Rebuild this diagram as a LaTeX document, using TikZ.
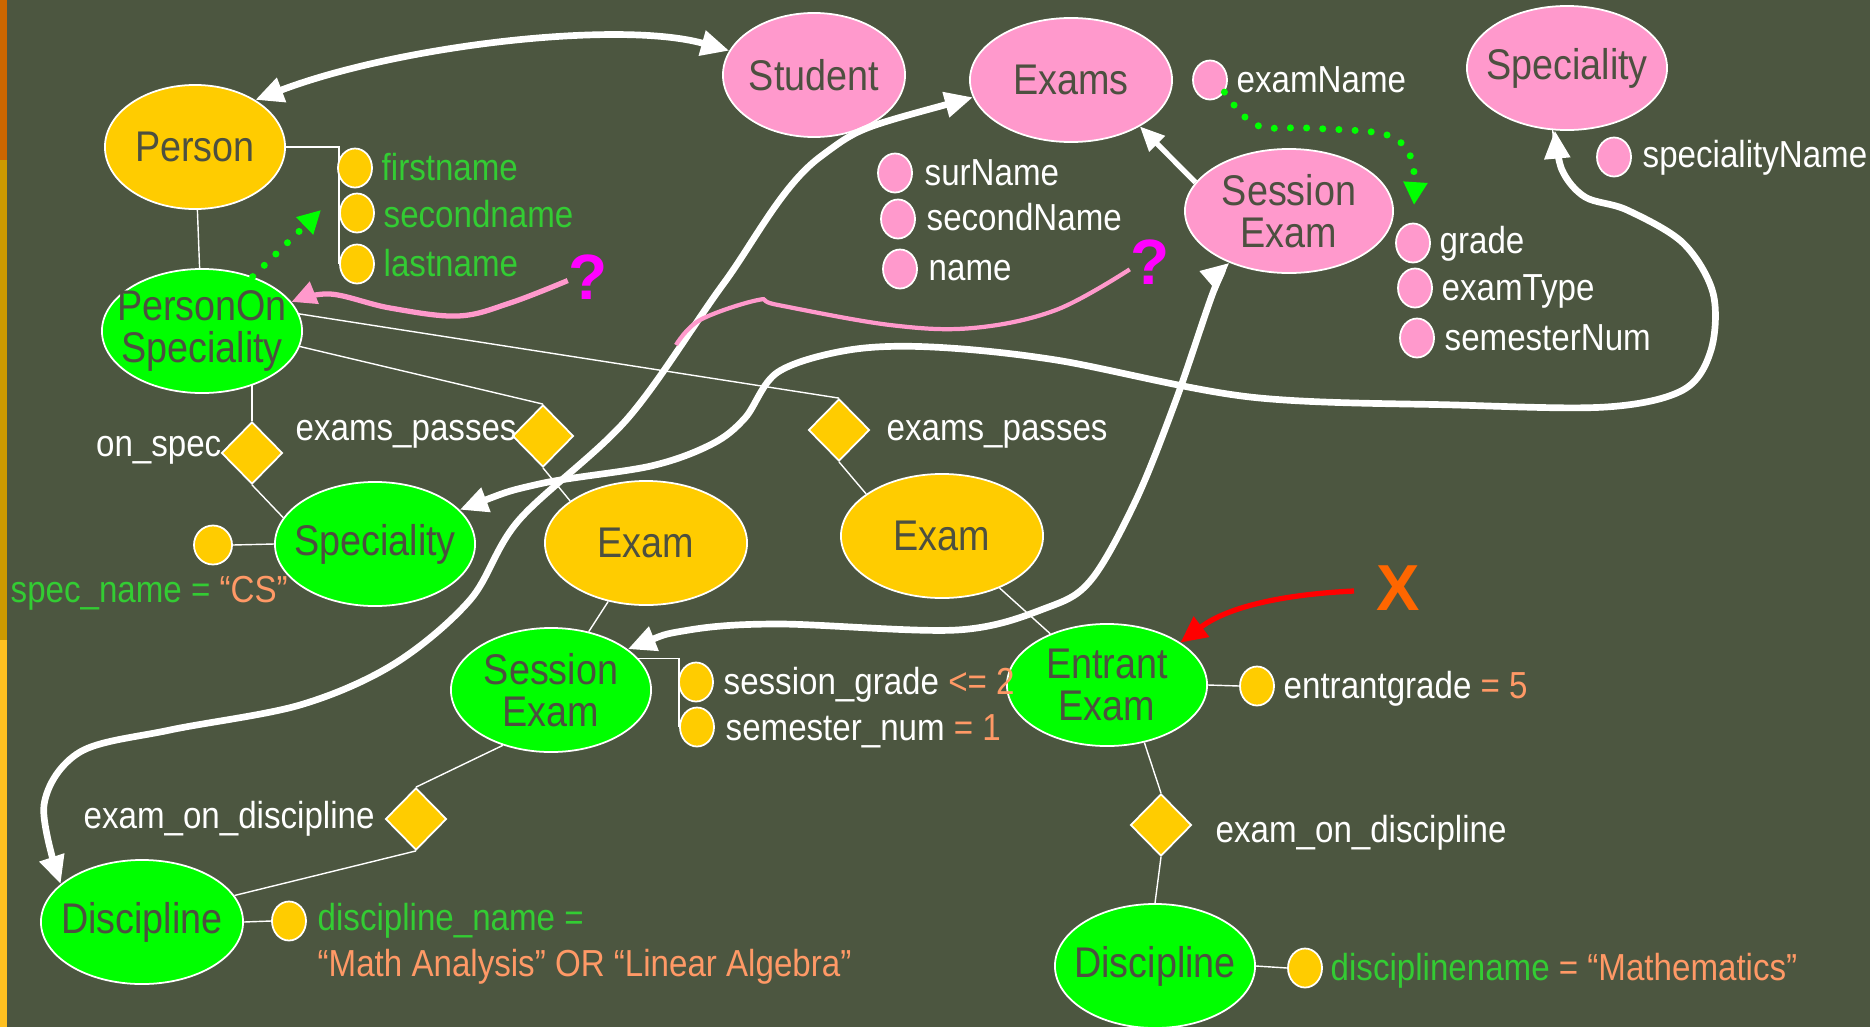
\documentclass[tikz,border=0pt]{standalone}
\usepackage{fontspec}
\setmainfont{Liberation Sans}[FakeStretch=0.88]
\newfontfamily\markfont{Liberation Sans}
\usetikzlibrary{shapes.geometric,arrows.meta}

\definecolor{board}{RGB}{76,86,64}
\definecolor{ink}{RGB}{77,80,64}
\definecolor{entyellow}{RGB}{255,204,0}
\definecolor{entgreen}{RGB}{0,255,0}
\definecolor{entpink}{RGB}{255,153,204}
\definecolor{attrgreen}{RGB}{51,204,51}
\definecolor{valorange}{RGB}{255,153,102}
\definecolor{qmagenta}{RGB}{255,0,255}
\definecolor{xorange}{RGB}{255,102,0}
\definecolor{stripA}{RGB}{204,102,0}
\definecolor{stripB}{RGB}{204,153,0}
\definecolor{stripC}{RGB}{255,192,32}

\pgfdeclarelayer{canvas}
\pgfdeclarelayer{links}
\pgfsetlayers{canvas,links,main}

\tikzset{
  entity/.style={ellipse, draw=white, line width=0.5pt, inner xsep=-8mm, inner ysep=-5mm,
    minimum width=2cm, minimum height=1.24cm, text=ink, align=center,
    font=\fontsize{12.2}{12}\selectfont},
  yellowent/.style={entity, fill=entyellow},
  greenent/.style={entity, fill=entgreen},
  pinkent/.style={entity, fill=entpink},
  relation/.style={diamond, draw=white, line width=0.5pt, fill=entyellow, inner sep=0pt,
    minimum width=0.61cm, minimum height=0.62cm},
  attr/.style={ellipse, draw=white, line width=0.5pt, inner sep=0pt,
    minimum width=0.34cm, minimum height=0.39cm},
  yattr/.style={attr, fill=entyellow},
  pattr/.style={attr, fill=entpink},
  lbl/.style={anchor=base west, inner sep=0pt, text=white, font=\fontsize{10.7}{12}\selectfont},
  qmark/.style={inner sep=0pt, text=qmagenta, font=\markfont\bfseries\fontsize{18.2}{18}\selectfont},
  xmark/.style={inner sep=0pt, text=xorange, font=\markfont\bfseries\fontsize{18.5}{18}\selectfont},
  link/.style={draw=white, line width=0.4pt},
  bigarrow/.style={draw=white, line width=1.9pt,
    {Triangle[length=8pt,width=7pt]}-{Triangle[length=8pt,width=7pt]}},
  onearrow/.style={draw=white, line width=1.5pt, -{Triangle[length=7pt,width=6pt]}},
  pinkarrow/.style={draw=entpink, line width=1.5pt, -{Triangle[length=7pt,width=6.5pt]}},
  pinkline/.style={draw=entpink, line width=1.2pt},
  redarrow/.style={draw=red, line width=1.5pt, -{Triangle[length=7.5pt,width=7pt]}},
  greendots/.style={draw=entgreen, line width=2pt, line cap=round,
    dash pattern=on 0pt off 4.6pt, -{Triangle[length=6.5pt,width=6.5pt]}}
}

\begin{document}
\begin{tikzpicture}[x=0.01cm, y=-0.01cm]
\useasboundingbox (0,0) rectangle (1870,1027);

\begin{pgfonlayer}{canvas}
  \fill[board] (0,0) rectangle (1870,1027);
  \fill[stripA] (0,0) rectangle (7,160);
  \fill[stripB] (0,160) rectangle (7,640);
  \fill[stripC] (0,640) rectangle (7,1027);
\end{pgfonlayer}

% entities
\node[yellowent, minimum width=1.8cm] (person) at (195,147) {Person};
\node[greenent] (pos) at (202,331) {PersonOn\\Speciality};
\node[pinkent, minimum width=1.82cm] (student) at (814,75) {Student};
\node[pinkent, minimum width=2.02cm] (exams) at (1071,80) {Exams};
\node[pinkent, minimum width=2.08cm] (sessP) at (1289,211) {Session\\Exam};
\node[pinkent] (specP) at (1567,68) {Speciality};
\node[greenent] (specG) at (375,544) {Speciality};
\node[yellowent, minimum width=2.02cm] (examL) at (646,543) {Exam};
\node[yellowent, minimum width=2.02cm] (examR) at (942,536) {Exam};
\node[greenent] (sessG) at (551,690) {Session\\Exam};
\node[greenent, minimum height=1.22cm] (entr) at (1107,685) {Entrant\\Exam};
\node[greenent, minimum width=2.02cm] (discL) at (142,922) {Discipline};
\node[greenent] (discR) at (1155,966) {Discipline};

% relationships
\node[relation] (onspec) at (252,453) {};
\node[relation] (dA) at (543,436) {};
\node[relation] (dB) at (839,430) {};
\node[relation] (dC) at (416,819) {};
\node[relation] (dD) at (1161,825) {};

% attributes
\node[yattr] (a1) at (355,168) {};
\node[yattr] (a2) at (357,213) {};
\node[yattr] (a3) at (357,264) {};
\node[yattr, minimum width=0.38cm] (sc) at (213,545) {};
\node[yattr] (sg1) at (696,682) {};
\node[yattr] (sg2) at (697,727) {};
\node[yattr] (eg) at (1257,686) {};
\node[yattr] (dn) at (289,921) {};
\node[yattr] (dn2) at (1305,968) {};
\node[pattr] (pEn) at (1210,80) {};
\node[pattr] (pSur) at (895,173) {};
\node[pattr] (pSec) at (898,219) {};
\node[pattr] (pNm) at (900,269) {};
\node[pattr] (pGr) at (1413,243) {};
\node[pattr] (pTy) at (1415,288) {};
\node[pattr] (pSem) at (1417,338) {};
\node[pattr] (pSpn) at (1614,157) {};

% labels
\node[lbl, text=attrgreen] (lFirst) at (381,180) {firstname};
\node[lbl, text=attrgreen] (lSecond) at (383,227) {secondname};
\node[lbl, text=attrgreen] (lLast) at (383,276) {lastname};
\node[lbl] (lExamName) at (1236,92) {examName};
\node[lbl] (lSur) at (924,185) {surName};
\node[lbl] (lSec) at (926,230) {secondName};
\node[lbl] (lName) at (928,280) {name};
\node[lbl] (lGrade) at (1439,253) {grade};
\node[lbl] (lType) at (1441,300) {examType};
\node[lbl] (lSem) at (1444,350) {semesterNum};
\node[lbl] (lSpn) at (1642,167) {specialityName};
\node[lbl, anchor=base east] (lOnSpec) at (222,456) {on\_spec};
\node[lbl] (lPassA) at (295,440) {exams\_passes};
\node[lbl] (lPassB) at (886,440) {exams\_passes};
\node[lbl, text=attrgreen] (lSpec) at (10,602) {spec\_name = \textcolor{valorange}{“CS”}};
\node[lbl] (lSG) at (723,694) {session\_grade \textcolor{valorange}{<= 2}};
\node[lbl] (lSN) at (725,740) {semester\_num \textcolor{valorange}{= 1}};
\node[lbl] (lEG) at (1283,698) {entrantgrade \textcolor{valorange}{= 5}};
\node[lbl] (lEodA) at (83,828) {exam\_on\_discipline};
\node[lbl] (lEodB) at (1215,842) {exam\_on\_discipline};
\node[lbl, text=attrgreen] (lDn1) at (317,930) {discipline\_name =};
\node[lbl, text=valorange] (lDn2) at (317,976) {“Math Analysis” OR “Linear Algebra”};
\node[lbl, text=attrgreen] (lDnR) at (1330,980) {disciplinename \textcolor{valorange}{= “Mathematics”}};

% marks
\node[qmark] (q1) at (588,277) {?};
\node[qmark] (q2) at (1150,262) {?};
\node[xmark] (xm) at (1398,588) {X};

% thin ER links, kept under the shapes
\begin{pgfonlayer}{links}
  \draw[link] (person) -- (pos);
  \draw[link] (person.east) -| (a3.west);
  \draw[link] (pos.-9) -- (dA.north);
  \draw[link] (pos.10) -- (dB.north);
  \draw[link] (onspec.north) -- (onspec.north |- pos.center);
  \draw[link] (onspec.south) -- (specG.164);
  \draw[link] (sc.east) -- (specG.west);
  \draw[link] (dA.south) -- (examL.151);
  \draw[link] (dB.south) -- (examR.151);
  \draw[link] (examL) -- (sessG);
  \draw[link] (examR) -- (entr);
  \draw[link] (sessG.20) -| (sg2.west);
  \draw[link] (sessG.229) -- (dC.north);
  \draw[link] (dC.south) -- (discL.16);
  \draw[link] (discL.east) -- (dn.west);
  \draw[link] (entr.east) -- (eg.west);
  \draw[link] (entr.-57) -- (dD.north);
  \draw[link] (dD.south) -- (discR.north);
  \draw[link] (discR.east) -- (dn2.west);
\end{pgfonlayer}

% mapping arrows
\draw[bigarrow] (person.38) .. controls (400,45) and (620,20) .. (student.164);
\draw[bigarrow] plot[smooth, tension=0.55] coordinates {(exams.190) (820,157) (724,283) (628,418)
  (519,520) (470,600) (394,664) (300,705) (170,730) (80,752) (44,805) (discL.155)};
\draw[bigarrow] plot[smooth, tension=0.55] coordinates {(specG.22) (539,484) (651,466) (712,444)
  (745,418) (778,372) (849,350) (932,347) (1056,360) (1250,397) (1456,405) (1606,407) (1683,390)
  (1711,350) (1713,293) (1683,243) (1627,210) (1585,197) (1562,170) (specP.259)};
\draw[bigarrow] plot[smooth, tension=0.55] coordinates {(sessG.28) (689,630) (779,624) (957,630)
  (1046,608) (1091,580) (1136,500) (1176,400) (1214,290) (sessP.221)};
\draw[onearrow] (sessP.163) -- (exams.326);

% annotations
\coordinate (gd1) at (321,210);
\draw[greendots] (pos.47) -- (gd1);
\coordinate (gd2) at (1414,205);
\draw[greendots] plot[smooth, tension=0.6] coordinates {(pEn.-40) (1256,125) (1307,128) (1379,133)
  (1405,147) (1414,172) (gd2)};
\draw[pinkarrow] plot[smooth, tension=0.6] coordinates {(q1.190) (510,303) (458,316) (390,308)
  (330,294) (pos.18)};
\coordinate (pk) at (676,345);
\draw[pinkline] plot[smooth, tension=0.6] coordinates {(pk) (700,320) (758,300) (778,305) (890,325)
  (973,328) (1056,310) (q2.200)};
\coordinate (rs) at (1354,591);
\draw[redarrow] (rs) .. controls (1290,594) and (1230,605) .. (entr.30);
\end{tikzpicture}
\end{document}
